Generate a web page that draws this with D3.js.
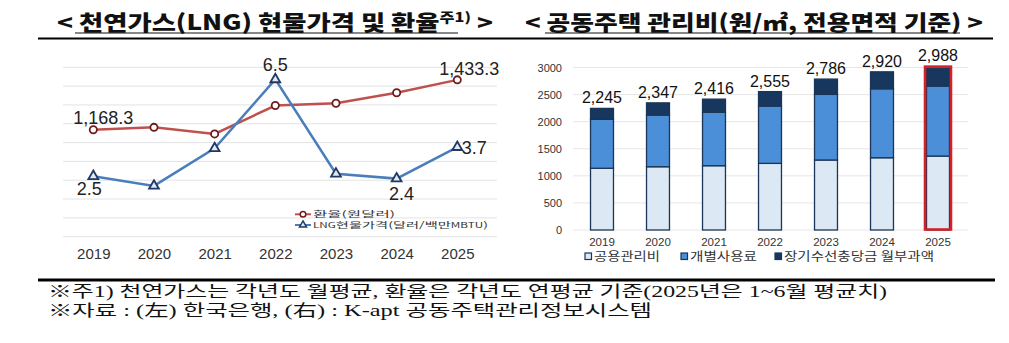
<!DOCTYPE html>
<html><head><meta charset="utf-8">
<script src="https://cdn.jsdelivr.net/npm/d3@7"></script>
<style>
html,body{margin:0;padding:0;background:#fff;}
svg{display:block;}
</style></head>
<body>
<svg id="c" width="1009" height="343"></svg>
<script>
// ---------- data ----------
const years = ['2019','2020','2021','2022','2023','2024','2025'];
// left chart
const exchangeRate = [1168.3, 1181, 1146, 1297, 1309, 1365, 1433.3];
const lngPrice = [2.5, 2.1, 3.65, 6.5, 2.6, 2.4, 3.7];
const rateLabels = ['1,168.3','','','','','','1,433.3'];
const lngLabels = ['2.5','','','6.5','','2.4','3.7'];
const rateGridTicks = [600,700,800,900,1000,1100,1200,1300,1400,1500];
const leftLegend = ['환율(원달러)', 'LNG현물가격(달러/백만MBTU)'];
// right chart
const commonFee = [1140, 1168, 1187, 1230, 1292, 1334, 1365];
const individualFee = [903, 954, 985, 1058, 1212, 1273, 1292];
const repairFund = [202, 225, 244, 267, 282, 313, 331];
const totals = [2245, 2347, 2416, 2555, 2786, 2920, 2988];
const feeTicks = [0,500,1000,1500,2000,2500,3000];
const feeSeries = ['공용관리비','개별사용료','장기수선충당금 월부과액'];
const highlightYear = '2025';
// titles & notes
const leftTitle = ['< 천연가스(LNG) 현물가격 및 환율', '주1)', ' >'];
const rightTitle = '< 공동주택 관리비(원/㎡, 전용면적 기준) >';
const notes = ['※주1) 천연가스는 각년도 월평균, 환율은 각년도 연평균 기준(2025년은 1~6월 평균치)',
               '※자료 : (左) 한국은행, (右) : K-apt 공동주택관리정보시스템'];

// ---------- drawing ----------
const svg = d3.select('#c');
const KR = '"Noto Sans CJK KR","Noto Sans",sans-serif';
const LAT = '"Liberation Sans",Arial,"Noto Sans CJK KR",sans-serif';

// Titles
const t1 = svg.append('text').attr('x',57).attr('y',30)
  .attr('font-family',KR).attr('font-weight',900).attr('font-size',21).attr('fill','#111')
  .attr('textLength',436).attr('lengthAdjust','spacingAndGlyphs');
t1.append('tspan').text(leftTitle[0]);
t1.append('tspan').attr('font-size',13).attr('dy',-8).text(leftTitle[1]);
t1.append('tspan').attr('dy',8).text(leftTitle[2]);

svg.append('text').attr('x',525).attr('y',30)
  .attr('font-family',KR).attr('font-weight',900).attr('font-size',21).attr('fill','#111')
  .attr('textLength',458).attr('lengthAdjust','spacingAndGlyphs')
  .text(rightTitle);

// title underlines
svg.append('line').attr('x1',75).attr('x2',458).attr('y1',33).attr('y2',33).attr('stroke','#111').attr('stroke-width',1.2);
svg.append('line').attr('x1',545).attr('x2',960).attr('y1',33).attr('y2',33).attr('stroke','#111').attr('stroke-width',1.2);
// rules
svg.append('line').attr('x1',38).attr('x2',993).attr('y1',38.5).attr('y2',38.5).attr('stroke','#000').attr('stroke-width',2);
svg.append('line').attr('x1',38).attr('x2',995).attr('y1',280).attr('y2',280).attr('stroke','#000').attr('stroke-width',3);

// ---------- left chart ----------
const xL = d3.scalePoint().domain(years).range([93.3, 457.3]);
const yRate = d3.scaleLinear().domain([600,1500]).range([236.7, 67.3]);
const yLng = d3.scaleLinear().domain([0,7]).range([236.7, 67.3]);

const gL = svg.append('g');
gL.selectAll('line.grid').data(rateGridTicks).join('line')
  .attr('x1',63).attr('x2',497)
  .attr('y1',d=>yRate(d)).attr('y2',d=>yRate(d))
  .attr('stroke','#e3e3e3').attr('stroke-width',1);

const xAxisL = d3.axisBottom(xL).tickSize(0).tickPadding(0);
const gxL = gL.append('g').attr('transform','translate(0,248)').call(xAxisL);
gxL.select('.domain').remove();
gxL.selectAll('text').attr('font-family',LAT).attr('font-size',15).attr('fill','#333').attr('dy','0.71em').attr('y',0);

const rateColor = '#c0504d', lngColor = '#4a7ebb';
const lineRate = d3.line().x((d,i)=>xL(years[i])).y(d=>yRate(d));
const lineLng = d3.line().x((d,i)=>xL(years[i])).y(d=>yLng(d));
gL.append('path').attr('d',lineRate(exchangeRate)).attr('fill','none').attr('stroke',rateColor).attr('stroke-width',2.5);
gL.append('path').attr('d',lineLng(lngPrice)).attr('fill','none').attr('stroke',lngColor).attr('stroke-width',2.5);

gL.selectAll('circle.rate').data(exchangeRate).join('circle')
  .attr('cx',(d,i)=>xL(years[i])).attr('cy',d=>yRate(d)).attr('r',3.6)
  .attr('fill','#fff').attr('stroke','#6e1b1b').attr('stroke-width',1.8);
const tri = d3.symbol(d3.symbolTriangle, 42);
gL.selectAll('path.lng').data(lngPrice).join('path')
  .attr('transform',(d,i)=>`translate(${xL(years[i])},${yLng(d)})`)
  .attr('d',tri).attr('fill','#dfe8f3').attr('stroke','#1f3864').attr('stroke-width',1.8);

// data labels
const rateOff = {0:[10,-6], 6:[12,-5]};
exchangeRate.forEach((d,i)=>{
  if(!rateLabels[i]) return;
  gL.append('text').attr('x',xL(years[i])+rateOff[i][0]).attr('y',yRate(d)+rateOff[i][1])
    .attr('text-anchor','middle').attr('font-family',LAT).attr('font-size',18).attr('fill','#222')
    .text(rateLabels[i]);
});
const lngOff = {0:[-4,19], 3:[0,-8], 5:[5,21], 6:[17,7]};
lngPrice.forEach((d,i)=>{
  if(!lngLabels[i]) return;
  gL.append('text').attr('x',xL(years[i])+lngOff[i][0]).attr('y',yLng(d)+lngOff[i][1])
    .attr('text-anchor','middle').attr('font-family',LAT).attr('font-size',18).attr('fill','#222')
    .text(lngLabels[i]);
});

// left legend
const lgL = gL.append('g');
lgL.append('line').attr('x1',295).attr('x2',311).attr('y1',214.3).attr('y2',214.3).attr('stroke',rateColor).attr('stroke-width',2);
lgL.append('circle').attr('cx',303).attr('cy',214.3).attr('r',2.8).attr('fill','#fff').attr('stroke','#6e1b1b').attr('stroke-width',1.5);
lgL.append('text').attr('x',313).attr('y',217.3).attr('font-family',KR).attr('font-size',8.5).attr('fill','#333')
  .attr('textLength',82).attr('lengthAdjust','spacingAndGlyphs').text(leftLegend[0]);
lgL.append('line').attr('x1',295).attr('x2',311).attr('y1',225).attr('y2',225).attr('stroke',lngColor).attr('stroke-width',2);
lgL.append('path').attr('transform','translate(303,225)').attr('d',d3.symbol(d3.symbolTriangle,22)).attr('fill','#dfe8f3').attr('stroke','#1f3864').attr('stroke-width',1.4);
const lt = lgL.append('text').attr('x',313).attr('y',228.2).attr('font-family',KR).attr('font-size',8.5).attr('fill','#333')
  .attr('textLength',175).attr('lengthAdjust','spacingAndGlyphs');
lt.append('tspan').attr('font-size',7).text('LNG');
lt.append('tspan').text('현물가격(달러/백만');
lt.append('tspan').attr('font-size',7).text('MBTU');
lt.append('tspan').text(')');

// ---------- right chart ----------
const xR = d3.scaleBand().domain(years).range([574, 966]).paddingInner(0.59).paddingOuter(0.295);
const yR = d3.scaleLinear().domain([0,3000]).range([230, 67.5]);
const gR = svg.append('g');
gR.selectAll('line.grid').data(feeTicks).join('line')
  .attr('x1',573).attr('x2',968).attr('y1',d=>yR(d)).attr('y2',d=>yR(d))
  .attr('stroke','#e6e6e6').attr('stroke-width',1);
const gyR = gR.append('g').attr('transform','translate(566,0)')
  .call(d3.axisLeft(yR).tickValues(feeTicks).tickSize(0).tickPadding(4).tickFormat(d3.format('d')));
gyR.select('.domain').remove();
gyR.selectAll('text').attr('font-family',LAT).attr('font-size',11).attr('fill','#333');
const gxR = gR.append('g').attr('transform','translate(0,238)')
  .call(d3.axisBottom(xR).tickSize(0).tickPadding(0));
gxR.select('.domain').remove();
gxR.selectAll('text').attr('font-family',LAT).attr('font-size',11.5).attr('fill','#333');

const stackData = years.map((y,i)=>({year:y, a:commonFee[i], b:individualFee[i], c:repairFund[i]}));
const stack = d3.stack().keys(['a','b','c'])(stackData);
const fills = ['#dde8f5','#4a8fd8','#17375e'];
gR.selectAll('g.layer').data(stack).join('g').attr('fill',(d,i)=>fills[i])
  .selectAll('rect').data(d=>d).join('rect')
  .attr('x',d=>xR(d.data.year)).attr('width',xR.bandwidth())
  .attr('y',d=>yR(d[1])).attr('height',d=>yR(d[0])-yR(d[1]))
  .attr('stroke','#1b3556').attr('stroke-width',1.3);
// highlight
gR.append('rect').attr('x',xR(highlightYear)-1.5).attr('width',xR.bandwidth()+3)
  .attr('y',yR(totals[years.indexOf(highlightYear)])-1.5)
  .attr('height',yR(0)-yR(totals[years.indexOf(highlightYear)])+1)
  .attr('fill','none').attr('stroke','#d42027').attr('stroke-width',2.6);
// totals
gR.selectAll('text.tot').data(totals).join('text')
  .attr('x',(d,i)=>xR(years[i])+xR.bandwidth()/2)
  .attr('y',(d,i)=>yR(d)-(years[i]===highlightYear?7:5))
  .attr('text-anchor','middle').attr('font-family',LAT).attr('font-size',16).attr('fill','#111')
  .text(d=>d3.format(',')(d));

// right legend
const legX = [585, 681, 775], legW = [66, 67, 150];
feeSeries.forEach((s,i)=>{
  gR.append('rect').attr('x',legX[i]).attr('y',253).attr('width',6.5).attr('height',6.5)
    .attr('fill',fills[i]).attr('stroke','#1b3556').attr('stroke-width',1.2);
  gR.append('text').attr('x',legX[i]+9).attr('y',261).attr('font-family',KR).attr('font-size',12).attr('fill','#333')
    .attr('textLength',legW[i]).attr('lengthAdjust','spacingAndGlyphs').text(s);
});

// ---------- notes ----------
const SERIF = '"Liberation Serif","DejaVu Serif","Noto Sans CJK KR",serif';
svg.append('text').attr('x',48).attr('y',297).attr('font-family',SERIF).attr('font-size',16).attr('fill','#111')
  .attr('textLength',839).attr('lengthAdjust','spacingAndGlyphs').text(notes[0]);
svg.append('text').attr('x',48).attr('y',316).attr('font-family',SERIF).attr('font-size',16).attr('fill','#111')
  .attr('textLength',604).attr('lengthAdjust','spacingAndGlyphs').text(notes[1]);
</script>
</body></html>
